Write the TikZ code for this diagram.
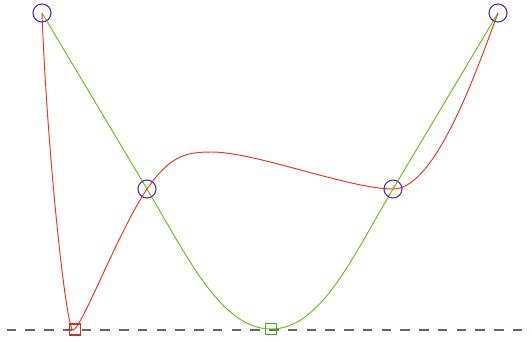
\documentclass[tikz,border=0pt]{standalone}
\begin{document}
\begin{tikzpicture}[x=1pt,y=-1pt,
  ctrl/.style={circle,draw=circ,line width=1.1pt,minimum size=18pt,inner sep=0pt},
  knot/.style={rectangle,line width=1.1pt,minimum size=11pt,inner sep=0pt},
  redcurve/.style={draw=redc,line width=0.95pt},
  greencurve/.style={draw=greenc,line width=0.95pt},
  baseline/.style={draw=gray!80!black,line width=1.3pt,dash pattern=on 9.5pt off 9.25pt}]
\definecolor{circ}{RGB}{80,50,170}
\definecolor{redc}{RGB}{228,55,30}
\definecolor{greenc}{RGB}{105,190,20}
\definecolor{redsq}{RGB}{195,50,45}
\definecolor{greensq}{RGB}{70,175,30}
\useasboundingbox (0,0) rectangle (532,341);
\coordinate (p0) at (42,13);
\coordinate (p1) at (147,189);
\coordinate (p2) at (393,189);
\coordinate (p3) at (498,13);
\coordinate (r) at (73,330);
\coordinate (g) at (271,329);
\coordinate (dl) at (6.7,330);
\coordinate (dr) at (532,330);
\draw[baseline] (dl) -- (dr);
% green curve
\draw[greencurve] (p0) -- (p1)
  .. controls (187,256) and (221,329) .. (g)
  .. controls (321,329) and (353,256) .. (p2) -- (p3);
% red curve
\draw[redcurve] (p0)
  .. controls (47,150) and (66,330) .. (r)
  .. controls (81,330) and (119,230) .. (p1)
  .. controls (170,156) and (185,152) .. (212,152)
  .. controls (255,152) and (350,189) .. (p2)
  .. controls (436,189) and (477,69) .. (p3);
\node[ctrl] (c0) at (p0) {};
\node[ctrl] (c1) at (p1) {};
\node[ctrl] (c2) at (p2) {};
\node[ctrl] (c3) at (p3) {};
\node[knot,draw=redsq] (sr) at (75,329.5) {};
\node[knot,draw=greensq] (sg) at (g) {};
\end{tikzpicture}
\end{document}
